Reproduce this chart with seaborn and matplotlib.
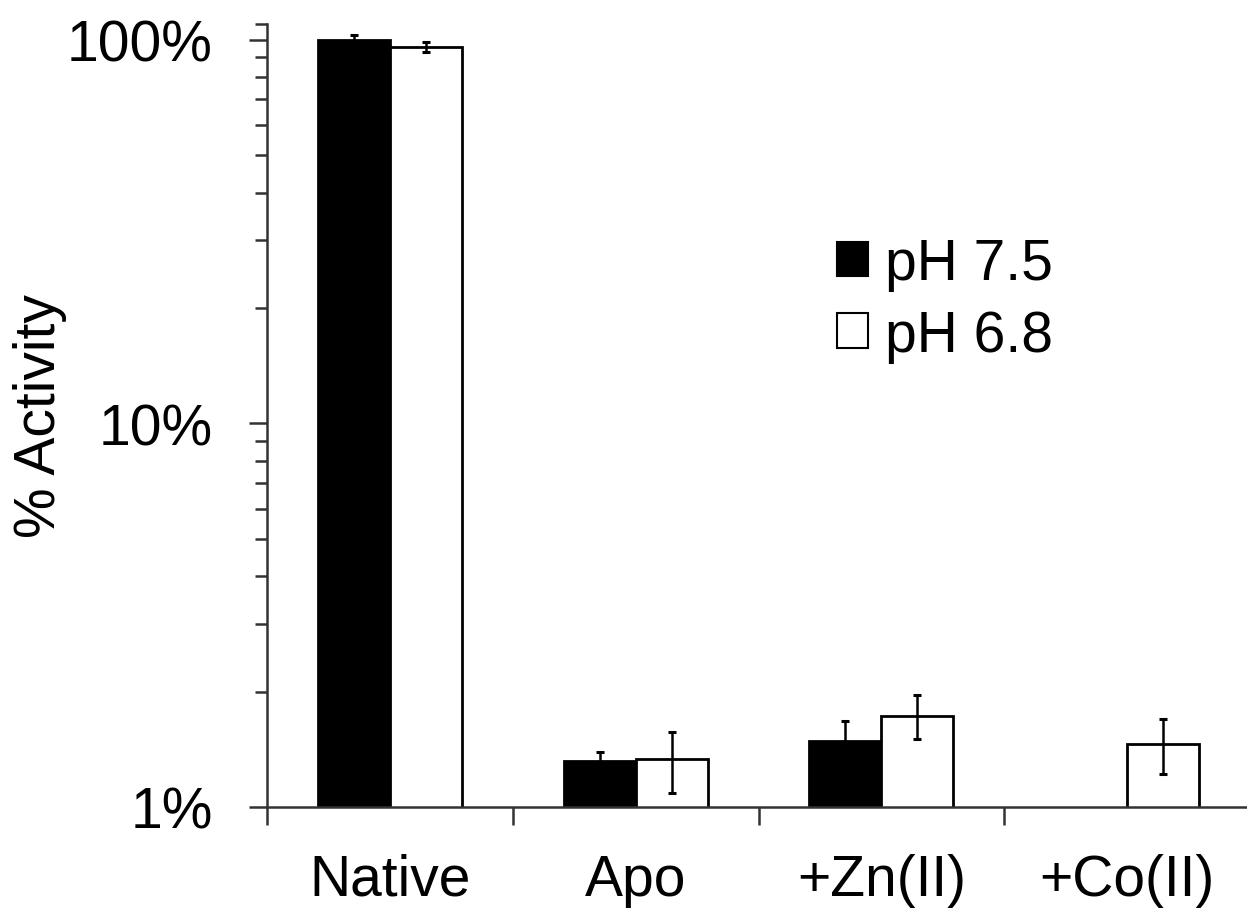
import numpy as np
import pandas as pd
import matplotlib.pyplot as plt
import seaborn as sns
from matplotlib.patches import Patch
from matplotlib.ticker import FixedLocator, NullFormatter

# Data (% activity, log axis)
categories = ["Native", "Apo", "+Zn(II)", "+Co(II)"]
series = ["pH 7.5", "pH 6.8"]
ph75 = [100.0, 1.32, 1.49, np.nan]
ph75_err = [3.0, 0.07, 0.19, np.nan]
ph68 = [96.0, 1.33, 1.73, 1.46]
ph68_err = [3.0, 0.24, 0.23, 0.24]

df = pd.DataFrame({
    "Condition": categories * 2,
    "pH": [series[0]] * 4 + [series[1]] * 4,
    "Activity": ph75 + ph68,
})

sns.set_style("white")
plt.rcParams["font.family"] = ["Liberation Sans", "DejaVu Sans"]
plt.rcParams["text.color"] = "black"
plt.rcParams["axes.labelcolor"] = "black"
plt.rcParams["xtick.labelcolor"] = "black"
plt.rcParams["ytick.labelcolor"] = "black"

fs = 41
line_col = "#333333"
bar_width = 0.585

fig = plt.figure(figsize=(12.47, 9.12), dpi=100)
ax = fig.add_axes([267 / 1247, 1 - 808 / 912, 983 / 1247, 783 / 912])
ax.set_yscale("log")

sns.barplot(data=df, x="Condition", y="Activity", hue="pH", order=categories,
            hue_order=series, palette={"pH 7.5": "black", "pH 6.8": "white"},
            edgecolor="black", linewidth=2.0, width=bar_width, dodge=True,
            errorbar=None, legend=False, ax=ax)

# error bars at the dodged bar centres
off = bar_width / 4
xpos = np.arange(len(categories))
for vals, errs, sign in [(ph75, ph75_err, -1), (ph68, ph68_err, 1)]:
    ax.errorbar(xpos + sign * off, vals, yerr=errs, fmt="none", ecolor="black",
                elinewidth=1.8, capsize=3, capthick=2.2, zorder=5)

ax.set_ylim(1, 110)
ax.set_xlim(-0.5, 3.5)

# y ticks
ax.yaxis.set_major_locator(FixedLocator([1, 10, 100]))
ax.set_yticklabels(["1%", "10%", "100%"])
minors = [m * d for d in (1, 10) for m in range(2, 10)] + [110]
ax.yaxis.set_minor_locator(FixedLocator(minors))
ax.yaxis.set_minor_formatter(NullFormatter())
ax.tick_params(axis="y", which="major", length=13, width=1.8, color=line_col,
               direction="out", pad=26, labelsize=fs, left=True)
ax.tick_params(axis="y", which="minor", length=9, width=1.8, color=line_col,
               direction="out", left=True)

# x ticks: labels at centres, tick marks at category boundaries
ax.set_xticks(xpos)
ax.set_xticklabels(categories)
ax.xaxis.set_minor_locator(FixedLocator([-0.5, 0.5, 1.5, 2.5]))
ax.tick_params(axis="x", which="major", length=0, pad=33, labelsize=fs)
ax.tick_params(axis="x", which="minor", length=13, width=1.8, color=line_col,
               direction="out", bottom=True)

ax.set_xlabel("")
ax.set_ylabel("% Activity", fontsize=fs, labelpad=0)

for side in ["top", "right"]:
    ax.spines[side].set_visible(False)
for side in ["left", "bottom"]:
    ax.spines[side].set_color(line_col)
    ax.spines[side].set_linewidth(1.8)

handles = [Patch(facecolor="black", edgecolor="black", linewidth=1.5),
           Patch(facecolor="white", edgecolor="black", linewidth=1.5)]
ax.legend(handles, series, loc="upper left", bbox_to_anchor=(837 / 1247, 1 - 238 / 912),
          bbox_transform=fig.transFigure, frameon=False, fontsize=fs,
          handlelength=0.55, handleheight=0.55, handletextpad=0.3,
          borderpad=0, borderaxespad=0, labelspacing=0.31)

fig.savefig("out.png", dpi=100)
